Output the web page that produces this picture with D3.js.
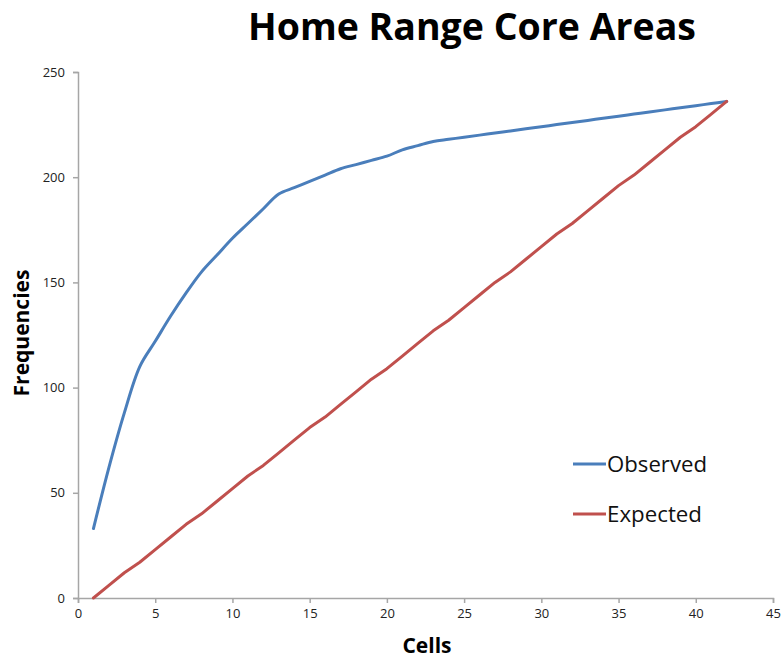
<!DOCTYPE html>
<html>
<head>
<meta charset="utf-8">
<script src="https://cdn.jsdelivr.net/npm/d3@7"></script>
<style>
  html, body { margin: 0; padding: 0; background: #fff; }
  svg { display: block; }
</style>
</head>
<body>
<svg id="chart" width="783" height="661"></svg>
<script>
// Cumulative frequencies per number of cells
const cells = d3.range(1, 43);
const observed = [33, 62, 88, 110, 122, 134, 145, 155, 163, 171, 178, 185, 192, 195, 198,
  201, 204, 206, 208, 210, 213, 215, 217, 218, 219, 220, 221, 222, 223, 224, 225, 226,
  227, 228, 229, 230, 231, 232, 233, 234, 235, 236];
const expected = [0, 6, 12, 17, 23, 29, 35, 40, 46, 52, 58, 63, 69, 75, 81, 86, 92, 98,
  104, 109, 115, 121, 127, 132, 138, 144, 150, 155, 161, 167, 173, 178, 184, 190, 196,
  201, 207, 213, 219, 224, 230, 236];
const xTicks = [0, 5, 10, 15, 20, 25, 30, 35, 40, 45];
const yTicks = [0, 50, 100, 150, 200, 250];
const seriesNames = ["Observed", "Expected"];
const seriesColors = ["#4a7ebb", "#c0504d"];

const svg = d3.select("#chart");
const font = "Open Sans, Lato, sans-serif";

const x = d3.scaleLinear().domain([0, 45]).range([78, 773]);
const y = d3.scaleLinear().domain([0, 250]).range([598, 72]);

// Title
svg.append("text")
  .attr("x", 472).attr("y", 40)
  .attr("text-anchor", "middle")
  .attr("font-family", font).attr("font-weight", 700)
  .attr("font-size", 38)
  .attr("textLength", 448).attr("lengthAdjust", "spacingAndGlyphs")
  .attr("fill", "#000")
  .text("Home Range Core Areas");

// Axes
const axisColor = "#a6a6a6";
const gx = svg.append("g").attr("transform", `translate(0,${y(0)})`)
  .call(d3.axisBottom(x).tickValues(xTicks).tickSize(5).tickPadding(6).tickFormat(d3.format("d")));
const gy = svg.append("g").attr("transform", `translate(${x(0)},0)`)
  .call(d3.axisLeft(y).tickValues(yTicks).tickSize(5).tickPadding(8).tickFormat(d3.format("d")));
[gx, gy].forEach(g => {
  g.select(".domain").attr("stroke", axisColor).attr("stroke-width", 1.5);
  g.selectAll(".tick line").attr("stroke", axisColor).attr("stroke-width", 1.5);
  g.selectAll(".tick text").attr("font-family", font).attr("font-size", 13).attr("fill", "#222");
});

// Axis titles
svg.append("text")
  .attr("x", 427).attr("y", 653)
  .attr("text-anchor", "middle")
  .attr("font-family", font).attr("font-weight", 700).attr("font-size", 21)
  .text("Cells");
svg.append("text")
  .attr("transform", "translate(29,333) rotate(-90)")
  .attr("text-anchor", "middle")
  .attr("font-family", font).attr("font-weight", 700).attr("font-size", 21)
  .text("Frequencies");

// Lines: the observed curve is smoothed, the expected one is drawn straight
const lineSmooth = d3.line()
  .x((d, i) => x(cells[i]))
  .y(d => y(d))
  .curve(d3.curveCatmullRom.alpha(0.5));
const lineStraight = d3.line()
  .x((d, i) => x(cells[i]))
  .y(d => y(d));

[[observed, lineSmooth], [expected, lineStraight]].forEach(([vals, gen], k) => {
  svg.append("path")
    .datum(vals)
    .attr("fill", "none")
    .attr("stroke", seriesColors[k])
    .attr("stroke-width", 3)
    .attr("stroke-linejoin", "round")
    .attr("stroke-linecap", "round")
    .attr("d", gen);
});

// Legend
const legend = svg.append("g");
seriesNames.forEach((name, k) => {
  const ly = 464 + k * 50;
  legend.append("line")
    .attr("x1", 573).attr("x2", 606)
    .attr("y1", ly).attr("y2", ly)
    .attr("stroke", seriesColors[k]).attr("stroke-width", 3);
  legend.append("text")
    .attr("x", 607).attr("y", ly + 8)
    .attr("font-family", font).attr("font-size", 21)
    .attr("textLength", name === "Observed" ? 100 : 95)
    .attr("lengthAdjust", "spacingAndGlyphs")
    .attr("fill", "#111")
    .text(name);
});
</script>
</body>
</html>
